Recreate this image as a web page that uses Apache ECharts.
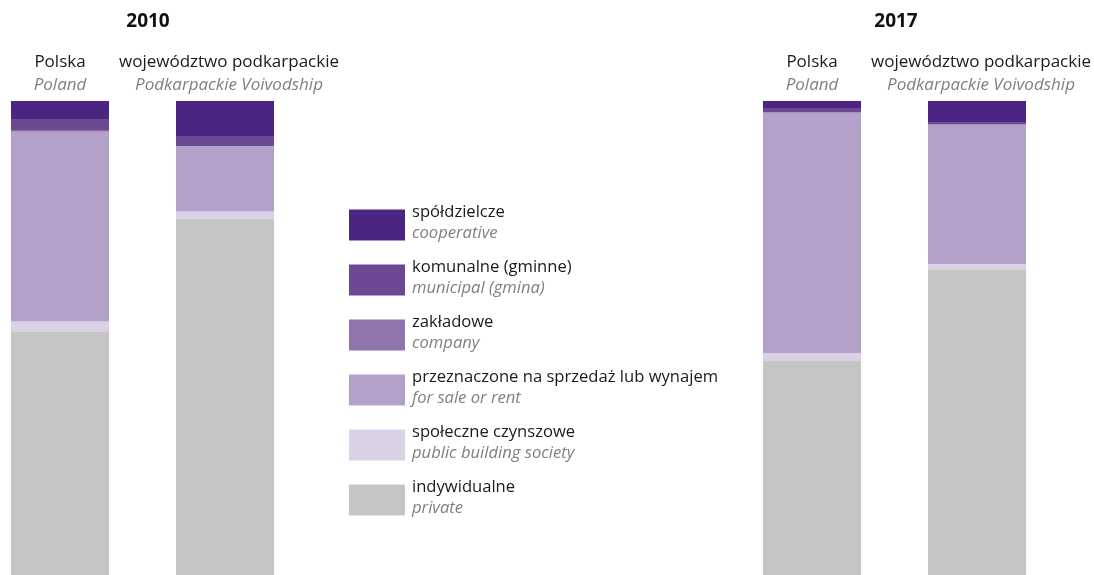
<!DOCTYPE html>
<html>
<head>
<meta charset="utf-8">
<script src="https://cdn.jsdelivr.net/npm/echarts@6/dist/echarts.min.js"></script>
<style>
  html, body { margin: 0; padding: 0; background: #fff; }
  #chart { width: 1094px; height: 575px; }
</style>
</head>
<body>
<div id="chart"></div>
<script>
// Structure of dwellings completed by form of construction (% of total)
const years = ['2010', '2017'];
const categories = ['Polska', 'województwo podkarpackie'];
const categoriesEn = ['Poland', 'Podkarpackie Voivodship'];

// Values per column: [Polska 2010, podkarpackie 2010, Polska 2017, podkarpackie 2017]
const indywidualne = [51.4, 75.2, 45.3, 64.5];
const spoleczneCzynszowe = [2.1, 1.5, 1.5, 1.1];
const naSprzedaz = [40.0, 13.7, 50.7, 29.4];
const zakladowe = [0.2, 0.1, 0.2, 0.1];
const komunalne = [2.5, 2.1, 0.8, 0.3];
const spoldzielcze = [3.8, 7.4, 1.5, 4.6];

// Stack order, bottom to top
const seriesDefs = [
  { name: 'indywidualne', en: 'private', values: indywidualne, color: '#c5c5c5' },
  { name: 'społeczne czynszowe', en: 'public building society', values: spoleczneCzynszowe, color: '#dbd1e7' },
  { name: 'przeznaczone na sprzedaż lub wynajem', en: 'for sale or rent', values: naSprzedaz, color: '#b3a1ca' },
  { name: 'zakładowe', en: 'company', values: zakladowe, color: '#8f74ae' },
  { name: 'komunalne (gminne)', en: 'municipal (gmina)', values: komunalne, color: '#6c4893' },
  { name: 'spółdzielcze', en: 'cooperative', values: spoldzielcze, color: '#4a2682' }
];

const FONT = '"Open Sans", "Noto Sans", sans-serif';
const enByName = {};
seriesDefs.forEach(d => { enByName[d.name] = d.en; });

const gridDefs = [
  { left: 60, width: 165, top: 101, bottom: 0 },
  { left: 812, width: 165, top: 101, bottom: 0 }
];

const labelRich = {
  pl: { fontFamily: FONT, fontSize: 17, color: '#1a1a1a', lineHeight: 23, align: 'center' },
  en: { fontFamily: FONT, fontSize: 17, fontStyle: 'italic', color: '#808080', lineHeight: 23, align: 'center' },
  // the long regional label sits slightly right of its column
  pl2: { fontFamily: FONT, fontSize: 17, color: '#1a1a1a', lineHeight: 23, align: 'center', padding: [0, 0, 0, 8] },
  en2: { fontFamily: FONT, fontSize: 17, fontStyle: 'italic', color: '#808080', lineHeight: 23, align: 'center', padding: [0, 0, 0, 8] }
};

const xAxes = gridDefs.map((g, i) => ({
  type: 'category',
  gridIndex: i,
  position: 'top',
  boundaryGap: false,
  data: categories,
  axisLine: { show: false },
  axisTick: { show: false },
  splitLine: { show: false },
  axisLabel: {
    interval: 0,
    margin: 4,
    formatter: (v, idx) => idx === 0
      ? '{pl|' + v + '}\n{en|' + categoriesEn[idx] + '}'
      : '{pl2|' + v + '}\n{en2|' + categoriesEn[idx] + '}',
    rich: labelRich
  }
}));

const yAxes = gridDefs.map((g, i) => ({
  type: 'value', gridIndex: i, min: 0, max: 100, show: false
}));

const series = [];
years.forEach((yr, gi) => {
  seriesDefs.forEach(d => {
    series.push({
      type: 'bar',
      name: d.name,
      xAxisIndex: gi,
      yAxisIndex: gi,
      stack: 'y' + yr,
      barWidth: 98,
      clip: false,
      silent: true,
      itemStyle: { color: d.color },
      data: d.values.slice(gi * 2, gi * 2 + 2)
    });
  });
});

const chart = echarts.init(document.getElementById('chart'));
chart.setOption({
  animation: false,
  color: seriesDefs.map(d => d.color),
  grid: gridDefs,
  xAxis: xAxes,
  yAxis: yAxes,
  legend: {
    orient: 'vertical',
    left: 344,
    top: 199,
    icon: 'rect',
    itemWidth: 56,
    itemHeight: 31,
    itemGap: 17,
    selectedMode: false,
    data: seriesDefs.slice().reverse().map(d => d.name),
    formatter: name => '{pl|' + name + '}\n{en|' + enByName[name] + '}',
    textStyle: {
      padding: [0, 0, 4, 2],
      rich: {
        pl: { fontFamily: FONT, fontSize: 16.6, color: '#1a1a1a', lineHeight: 21 },
        en: { fontFamily: FONT, fontSize: 16.6, fontStyle: 'italic', color: '#808080', lineHeight: 21 }
      }
    }
  },
  graphic: years.map((yr, gi) => ({
    type: 'text',
    x: gi === 0 ? 148 : 896,
    y: 22,
    style: {
      text: yr,
      align: 'center',
      verticalAlign: 'middle',
      fontFamily: FONT,
      fontSize: 19,
      fontWeight: 'bold',
      fill: '#111'
    }
  })),
  series: series
});
</script>
</body>
</html>
